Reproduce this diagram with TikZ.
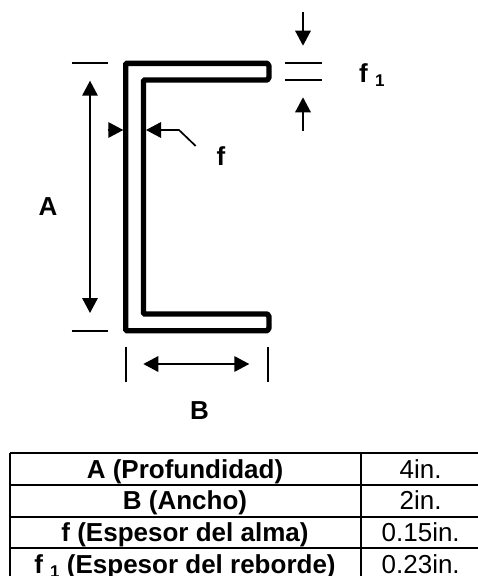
\documentclass[tikz,border=0pt]{standalone}
\usepackage{fontspec}
\setmainfont{Liberation Sans}
\usetikzlibrary{arrows.meta}

\newcommand{\suboneb}{\raisebox{-4pt}{\fontsize{17}{17}\selectfont\bfseries 1}}

\tikzset{
    profile/.style={line width=5.4pt, line join=bevel},
    dimline/.style={line width=1.7pt},
    dimarrow/.style={line width=1.7pt, -{Triangle[length=15pt,width=15.5pt]}},
    dimboth/.style={line width=1.7pt, {Triangle[length=15pt,width=15.5pt]}-{Triangle[length=15pt,width=15.5pt]}},
    tablerule/.style={line width=2pt},
    boldlabel/.style={font=\fontsize{26}{26}\selectfont\bfseries, inner sep=0pt, anchor=base},
    vallabel/.style={font=\fontsize{26}{26}\selectfont, inner sep=0pt, anchor=base}
}

\begin{document}
\begin{tikzpicture}[x=1pt,y=-1pt]

    \useasboundingbox (0,0) rectangle (478,576);

    % Draw channel section
    \draw[profile] (125.7,63.3) -- (267.3,63.3) -- (269,66) -- (269,77.5) -- (267.3,80)
        -- (143.5,80) -- (143.5,314) -- (267.3,314) -- (269,316.5) -- (269,328) -- (267.3,330.7)
        -- (125.7,330.7) -- cycle;

    % Dimension A
    \draw[dimline] (71.7,63.3) -- (108.3,63.3);
    \draw[dimline] (71.7,330.7) -- (108.3,330.7);
    \draw[dimboth] (90,80.7) -- (90,313);
    \node[boldlabel] (labelA) at (48,215.5) {A};

    % Dimension f
    \draw[dimarrow] (107.7,130) -- (123.3,130);
    \draw[dimarrow] (195.7,146) -- (179,130) -- (146,130);
    \node[boldlabel] (labelf) at (221,165.5) {f};

    % Dimension f1
    \draw[dimline] (285,63.3) -- (321.7,63.3);
    \draw[dimline] (285,80) -- (321.7,80);
    \draw[dimarrow] (303,12) -- (303,45.7);
    \draw[dimarrow] (303,130.7) -- (303,97.3);
    \node[boldlabel, anchor=base west] (labelfone) at (359,82.5) {f \suboneb};

    % Dimension B
    \draw[dimline] (125.7,346.7) -- (125.7,381.7);
    \draw[dimline] (267.7,346.7) -- (267.7,381.7);
    \draw[dimboth] (143.3,364) -- (249.3,364);
    \node[boldlabel] (labelB) at (199.5,419) {B};

    % Table rules
    \foreach \y in {452.7,484.7,516.7,548.3} {
        \draw[tablerule] (10,\y) -- (478,\y);
    }
    \draw[tablerule] (10,452.7) -- (10,576);
    \draw[tablerule] (360.7,452.7) -- (360.7,576);

    % Table text
    \foreach \r/\y/\name/\val in {
        1/478.3/A (Profundidad)/4in.,
        2/509.8/B (Ancho)/2in.,
        3/541.7/f (Espesor del alma)/0.15in.,
        4/573.3/f \suboneb{} (Espesor del reborde)/0.23in.} {
        \node[boldlabel] (name\r) at (185,\y) {\name};
        \node[vallabel] (val\r) at (420.7,\y) {\val};
    }

\end{tikzpicture}
\end{document}
